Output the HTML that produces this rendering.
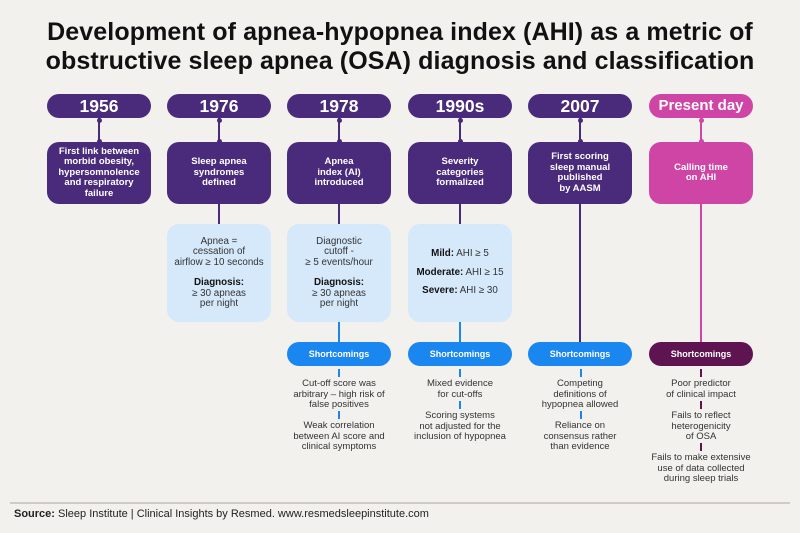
<!DOCTYPE html><html><head><meta charset="utf-8"><style>
body{margin:0;width:800px;height:533px;background:#f3f1ee;font-family:"Liberation Sans",sans-serif;position:relative;overflow:hidden}
.a{position:absolute}
h1{position:absolute;left:0;top:18px;width:800px;margin:0;text-align:center;font-size:25px;line-height:29px;font-weight:bold;color:#111;letter-spacing:0.1px}
.pill{position:absolute;width:104px;height:24px;border-radius:12px;color:#fff;font-weight:bold;font-size:17.5px;line-height:24px;text-align:center}
.box{position:absolute;width:104px;height:62px;top:142px;border-radius:12px;color:#fff;font-weight:bold;font-size:9.5px;line-height:10.5px;text-align:center;display:flex;align-items:center;justify-content:center}
.lb{position:absolute;width:104px;height:98px;top:224px;border-radius:12px;background:#d6e9fb;color:#333;font-size:9.8px;line-height:10.5px;text-align:center;display:flex;flex-direction:column;justify-content:center}
.sc{position:absolute;top:342px;width:104px;height:24px;border-radius:12px;color:#fff;font-weight:bold;font-size:9px;line-height:24px;text-align:center}
.v{position:absolute;width:1.5px}
.dot{position:absolute;width:5px;height:5px;border-radius:50%}
.t{position:absolute;width:120px;text-align:center;font-size:9.5px;line-height:10.5px;color:#333}
</style></head><body>
<h1>Development of apnea-hypopnea index (AHI) as a metric of<br>obstructive sleep apnea (OSA) diagnosis and classification</h1>

<div class="pill" style="left:47px;top:94px;background:#4a2a7a">1956</div>
<div class="pill" style="left:167px;top:94px;background:#4a2a7a">1976</div>
<div class="pill" style="left:287px;top:94px;background:#4a2a7a">1978</div>
<div class="pill" style="left:408px;top:94px;background:#4a2a7a">1990s</div>
<div class="pill" style="left:528px;top:94px;background:#4a2a7a">2007</div>
<div class="pill" style="left:649px;top:94px;background:#cf45a6;font-size:15px">Present day</div>

<div class="v" style="left:98px;top:118px;height:24px;background:#4a2a7a"></div>
<div class="v" style="left:218px;top:118px;height:24px;background:#4a2a7a"></div>
<div class="v" style="left:338px;top:118px;height:24px;background:#4a2a7a"></div>
<div class="v" style="left:459px;top:118px;height:24px;background:#4a2a7a"></div>
<div class="v" style="left:579px;top:118px;height:24px;background:#4a2a7a"></div>
<div class="v" style="left:700px;top:118px;height:24px;background:#cf45a6"></div>
<div class="dot" style="left:96.5px;top:118px;background:#4a2a7a"></div><div class="dot" style="left:96.5px;top:139px;background:#4a2a7a"></div>
<div class="dot" style="left:216.5px;top:118px;background:#4a2a7a"></div><div class="dot" style="left:216.5px;top:139px;background:#4a2a7a"></div>
<div class="dot" style="left:336.5px;top:118px;background:#4a2a7a"></div><div class="dot" style="left:336.5px;top:139px;background:#4a2a7a"></div>
<div class="dot" style="left:457.5px;top:118px;background:#4a2a7a"></div><div class="dot" style="left:457.5px;top:139px;background:#4a2a7a"></div>
<div class="dot" style="left:577.5px;top:118px;background:#4a2a7a"></div><div class="dot" style="left:577.5px;top:139px;background:#4a2a7a"></div>
<div class="dot" style="left:698.5px;top:118px;background:#cf45a6"></div><div class="dot" style="left:698.5px;top:139px;background:#cf45a6"></div>

<div class="box" style="left:47px;background:#4a2a7a">First link between<br>morbid obesity,<br>hypersomnolence<br>and respiratory<br>failure</div>
<div class="box" style="left:167px;background:#4a2a7a">Sleep apnea<br>syndromes<br>defined</div>
<div class="box" style="left:287px;background:#4a2a7a">Apnea<br>index (AI)<br>introduced</div>
<div class="box" style="left:408px;background:#4a2a7a">Severity<br>categories<br>formalized</div>
<div class="box" style="left:528px;background:#4a2a7a">First scoring<br>sleep manual<br>published<br>by AASM</div>
<div class="box" style="left:649px;background:#cf45a6">Calling time<br>on AHI</div>

<div class="v" style="left:218px;top:204px;height:20px;background:#4a2a7a"></div>
<div class="v" style="left:338px;top:204px;height:20px;background:#4a2a7a"></div>
<div class="v" style="left:459px;top:204px;height:20px;background:#4a2a7a"></div>
<div class="v" style="left:579px;top:204px;height:138px;background:#4a2a7a"></div>
<div class="v" style="left:700px;top:204px;height:138px;background:#cf45a6"></div>

<div class="lb" style="left:167px">Apnea =<br>cessation of<br>airflow ≥ 10 seconds<div style="height:10px"></div><b style="color:#111">Diagnosis:</b>≥ 30 apneas<br>per night</div>
<div class="lb" style="left:287px">Diagnostic<br>cutoff -<br>≥ 5 events/hour<div style="height:10px"></div><b style="color:#111">Diagnosis:</b>≥ 30 apneas<br>per night</div>
<div class="lb" style="left:408px;line-height:18.5px"><div><b style="color:#111">Mild:</b> AHI ≥ 5</div><div><b style="color:#111">Moderate:</b> AHI ≥ 15</div><div><b style="color:#111">Severe:</b> AHI ≥ 30</div></div>

<div class="v" style="left:338px;top:322px;height:20px;background:#1a86f0"></div>
<div class="v" style="left:459px;top:322px;height:20px;background:#1a86f0"></div>

<div class="sc" style="left:287px;background:#1a86f0">Shortcomings</div>
<div class="sc" style="left:408px;background:#1a86f0">Shortcomings</div>
<div class="sc" style="left:528px;background:#1a86f0">Shortcomings</div>
<div class="sc" style="left:649px;background:#5e1450">Shortcomings</div>

<div class="v" style="left:338px;top:369px;height:8px;background:#1a86f0"></div>
<div class="v" style="left:459px;top:369px;height:8px;background:#1a86f0"></div>
<div class="v" style="left:580px;top:369px;height:8px;background:#1a86f0"></div>
<div class="v" style="left:700px;top:369px;height:8px;background:#5e1450"></div>
<div class="v" style="left:338px;top:411px;height:8px;background:#1a86f0"></div>
<div class="v" style="left:459px;top:401px;height:8px;background:#1a86f0"></div>
<div class="v" style="left:580px;top:411px;height:8px;background:#1a86f0"></div>
<div class="v" style="left:700px;top:401px;height:8px;background:#5e1450"></div>
<div class="v" style="left:700px;top:443px;height:8px;background:#5e1450"></div>

<div class="t" style="left:279px;top:379px">Cut-off score was<br>arbitrary – high risk of<br>false positives</div>
<div class="t" style="left:279px;top:421px">Weak correlation<br>between AI score and<br>clinical symptoms</div>
<div class="t" style="left:400px;top:379px">Mixed evidence<br>for cut-offs</div>
<div class="t" style="left:400px;top:411px">Scoring systems<br>not adjusted for the<br>inclusion of hypopnea</div>
<div class="t" style="left:520px;top:379px">Competing<br>definitions of<br>hypopnea allowed</div>
<div class="t" style="left:520px;top:421px">Reliance on<br>consensus rather<br>than evidence</div>
<div class="t" style="left:641px;top:379px">Poor predictor<br>of clinical impact</div>
<div class="t" style="left:641px;top:411px">Fails to reflect<br>heterogenicity<br>of OSA</div>
<div class="t" style="left:636px;width:130px;top:453px">Fails to make extensive<br>use of data collected<br>during sleep trials</div>

<div class="a" style="left:10px;top:502px;width:780px;height:1.5px;background:#cfcbc5"></div>
<div class="a" style="left:14px;top:508px;font-size:11px;color:#222"><b>Source:</b> Sleep Institute | Clinical Insights by Resmed. www.resmedsleepinstitute.com</div>
</body></html>
